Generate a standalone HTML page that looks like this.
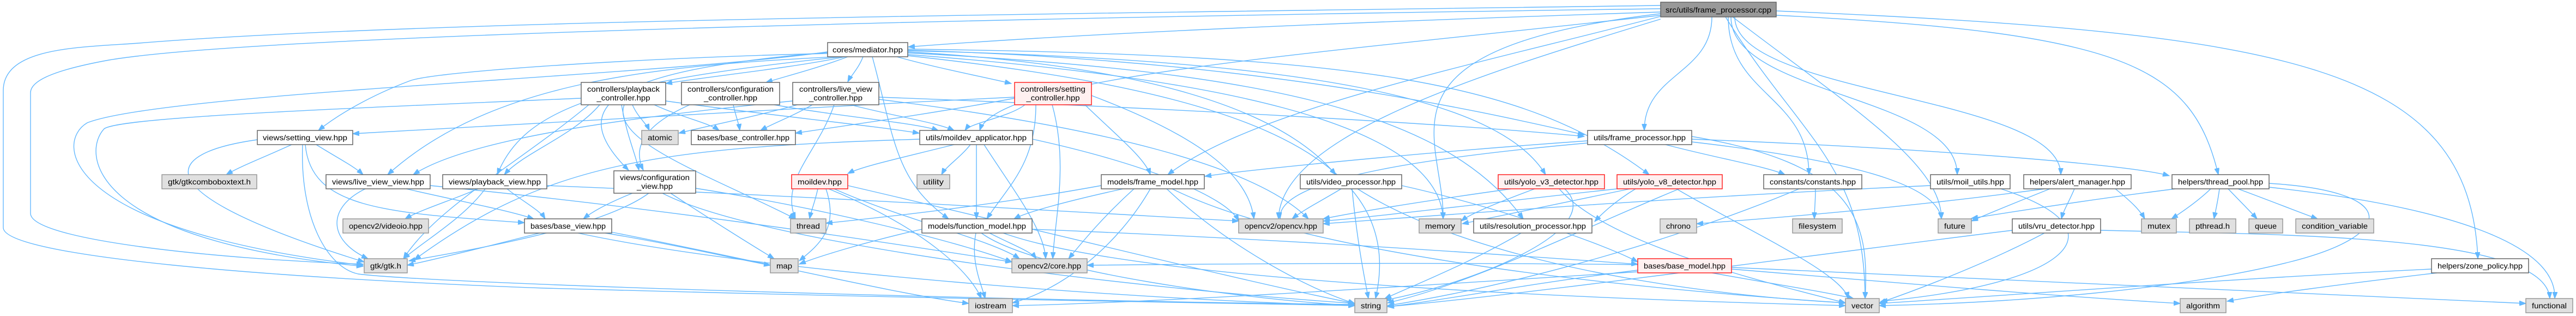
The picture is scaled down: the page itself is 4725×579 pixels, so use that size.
<!DOCTYPE html>
<html><head><meta charset="utf-8"><style>
html,body{margin:0;padding:0;background:#fff;}
svg{display:block;}
text{font-family:"Liberation Sans",sans-serif;font-size:14px;fill:#000;}
.e path{fill:none;stroke:#63b8ff;stroke-width:1.4;marker-end:url(#a);}
.n{fill:#fff;stroke:#666;stroke-width:1.5;}
.g{fill:#e0e0e0;stroke:#999;stroke-width:1.5;}
.r{fill:#fff0f0;stroke:#f22;stroke-width:1.5;}
.root{fill:#999;stroke:#666;stroke-width:1.5;}
</style></head><body>
<svg width="4725" height="579" viewBox="0 0 4725 579" xmlns="http://www.w3.org/2000/svg">
<defs><marker id="a" markerUnits="userSpaceOnUse" markerWidth="13" markerHeight="9" refX="12" refY="4.5" orient="auto"><path d="M0,0 L12,4.5 L0,9 z" fill="#63b8ff" stroke="#63b8ff"/></marker></defs>
<g class="e">
<!-- root -->
<path d="M3046 22 C2500 40,2000 60,1666 86"/>
<path d="M3140 31 C3140 135,3016 135,3016 239"/>
<path d="M3170 31 C3170 175,3318 175,3318 320"/>
<path d="M3175 31 C3175 175,3590 175,3590 320"/>
<path d="M3182 31 C3182 175,3780 175,3780 320"/>
<path d="M3258 28 C3900 60,4020 120,4069 320"/>
<path d="M3258 20 C4200 60,4530 120,4545 474"/>
<path d="M3165 31 C3300 250,3420 300,3421 547"/>
<path d="M3178 31 C3400 200,3561 300,3561 401"/>
<path d="M3046 30 C2700 120,2300 200,2142 320"/>
<path d="M3046 35 C2700 140,2350 250,2345 401"/>
<path d="M3046 28 C2400 100,1830 140,1797 239"/>
<path d="M3046 25 C2500 90,2650 250,2647 401"/>
<path d="M3046 16 C2000 30,500 60,200 110 C90 130,56 150,56 170 L56 391 C56 440,400 475,666 484"/>
<path d="M3046 10 C2000 25,800 35,255 79 C150 87,6 85,6 166 L6 417 C6 470,500 510,1000 528 C1800 550,2300 556,2485 560"/>
<!-- mediator -->
<path d="M1518 95 C1200 140,300 170,160 225 C100 260,110 420,666 486"/>
<path d="M1550 104 C1450 125,1300 140,1221 153"/>
<path d="M1555 104 C1500 125,1440 140,1405 151"/>
<path d="M1583 104 C1575 125,1560 140,1555 150"/>
<path d="M1645 104 C1720 125,1800 140,1855 153"/>
<path d="M1518 98 C1200 105,800 130,752 148 C680 175,620 210,584 239"/>
<path d="M1535 104 C1200 120,900 150,711 320"/>
<path d="M1545 104 C1100 150,960 200,912 320"/>
<path d="M1518 96 C1100 130,1040 200,1153 312"/>
<path d="M1600 104 C1640 250,1640 330,1740 401"/>
<path d="M1665 92 C2300 110,2700 200,2906 247"/>
<path d="M1665 95 C2100 120,2350 200,2450 320"/>
<path d="M1665 93 C2400 110,2750 180,2835 320"/>
<path d="M1665 97 C2300 130,2650 200,2794 401"/>
<path d="M1665 90 C2500 100,2800 150,3025 320"/>
<path d="M1665 100 C2200 140,2640 220,2647 401"/>
<path d="M1665 102 C2200 160,2590 260,2523 547"/>
<!-- controllers -->
<path d="M1066 180 C600 200,220 215,191 236 C150 280,160 440,666 488"/>
<path d="M1160 192 C1170 215,1185 225,1191 239"/>
<path d="M1200 192 C1250 215,1300 225,1319 239"/>
<path d="M1221 185 C1400 210,1600 230,1686 244"/>
<path d="M1140 192 C1150 250,1165 280,1172 312"/>
<path d="M1100 192 C1050 250,960 280,925 320"/>
<path d="M1145 192 C1120 260,1300 320,1459 401"/>
<path d="M1080 192 C950 300,800 380,740 474"/>
<path d="M1345 192 C1350 215,1355 225,1357 239"/>
<path d="M1265 192 C1180 230,1160 270,1180 312"/>
<path d="M1420 192 C1550 215,1680 225,1721 239"/>
<path d="M1470 190 C1380 215,1300 230,1245 244"/>
<path d="M1490 192 C1450 215,1420 225,1395 239"/>
<path d="M1454 185 C1100 220,850 260,758 320"/>
<path d="M1530 192 C1500 280,1430 330,1459 401"/>
<path d="M1560 192 C1650 215,1720 225,1750 239"/>
<path d="M1612 178 C2200 200,2700 230,2906 250"/>
<path d="M1612 182 C2000 230,2300 300,2400 401"/>
<path d="M1861 180 C1700 210,1550 230,1459 244"/>
<path d="M1861 178 C1400 200,900 230,647 245"/>
<path d="M1880 192 C1850 215,1780 225,1770 239"/>
<path d="M1930 192 C1960 300,1935 400,1931 474"/>
<path d="M1900 192 C1900 300,1850 340,1810 401"/>
<path d="M1990 192 C2050 250,2100 290,2110 320"/>
<path d="M2002 175 C2200 250,2290 320,2300 401"/>
<!-- moildev applicator -->
<path d="M1750 265 C1650 290,1580 305,1555 318"/>
<path d="M1780 265 C1760 290,1735 305,1727 320"/>
<path d="M1791 265 L1791 401"/>
<path d="M1805 265 C1860 350,1915 420,1918 474"/>
<path d="M1894 255 C2100 300,2250 360,2272 405"/>
<path d="M1687 255 C1200 270,1000 300,760 476"/>
<!-- moildev -->
<path d="M1500 346 C1495 370,1488 385,1485 401"/>
<path d="M1515 346 C1540 420,1500 450,1466 478"/>
<path d="M1530 346 C1650 400,1820 440,1870 474"/>
<path d="M1520 346 C1700 420,1780 500,1800 547"/>
<path d="M1555 340 C1900 420,2300 520,2485 556"/>
<!-- function model -->
<path d="M1815 427 C1860 450,1890 460,1901 474"/>
<path d="M1790 427 C1780 480,1800 520,1807 547"/>
<path d="M1893 420 C2400 440,2800 470,3004 484"/>
<path d="M1800 427 C1900 500,2300 550,2485 560"/>
<path d="M1691 420 C1600 440,1500 470,1466 484"/>
<path d="M1840 427 C2100 520,3000 550,3385 560"/>
<!-- frame model -->
<path d="M2020 340 C1800 380,1600 400,1515 409"/>
<path d="M2060 346 C1950 370,1880 390,1860 401"/>
<path d="M2140 346 C2250 450,2400 530,2485 556"/>
<path d="M2110 346 C2050 450,1950 530,1857 555"/>
<path d="M2080 346 C2020 400,1980 450,1960 474"/>
<path d="M2150 346 C2400 470,3000 530,3385 555"/>
<!-- frame processor hpp -->
<path d="M2912 258 C2600 280,2300 310,2210 323"/>
<path d="M2912 262 C2600 290,2340 330,2348 401"/>
<path d="M3055 265 C3150 290,3240 305,3274 320"/>
<path d="M3103 255 C3500 270,3900 300,3979 322"/>
<path d="M3103 250 C3400 300,3430 400,3421 547"/>
<path d="M3103 260 C3450 300,3555 350,3561 401"/>
<!-- video / yolo / res -->
<path d="M2460 346 C2420 370,2390 385,2370 401"/>
<path d="M2480 346 C2490 450,2505 520,2510 547"/>
<path d="M2490 346 C2700 480,3100 540,3385 555"/>
<path d="M2571 340 C2750 380,2950 450,3004 480"/>
<path d="M2772 346 C2600 370,2480 390,2427 401"/>
<path d="M2815 346 C2750 370,2700 390,2680 405"/>
<path d="M2870 346 C2950 420,2700 520,2540 550"/>
<path d="M2860 346 C2950 450,3250 520,3385 555"/>
<path d="M2966 346 C2700 375,2500 400,2427 405"/>
<path d="M2990 346 C2850 375,2730 400,2682 410"/>
<path d="M3000 346 C2960 370,2935 395,2925 406"/>
<path d="M3075 346 C3200 420,3380 500,3390 547"/>
<path d="M3080 346 C2900 420,2700 520,2545 555"/>
<path d="M2790 427 C2700 480,2600 520,2540 547"/>
<!-- constants, moil, alert, vru -->
<path d="M3330 346 C3330 370,3328 385,3328 401"/>
<path d="M3300 346 C3100 430,2800 520,2545 560"/>
<path d="M3670 346 C3900 420,3800 520,3450 552"/>
<path d="M3541 340 C3100 360,2700 390,2427 410"/>
<path d="M3880 346 C3910 370,3925 385,3934 401"/>
<path d="M3805 346 C3795 370,3785 385,3781 401"/>
<path d="M3760 346 C3700 370,3650 390,3616 405"/>
<path d="M3750 346 C3500 380,3250 400,3112 410"/>
<path d="M3750 427 C3650 480,3520 530,3447 555"/>
<path d="M3691 422 C3300 470,2800 540,2545 562"/>
<path d="M3853 422 C4200 430,4670 430,4677 547"/>
<!-- thread pool -->
<path d="M4055 346 C4030 370,4000 390,3983 401"/>
<path d="M4071 346 C4068 370,4063 390,4061 401"/>
<path d="M4087 346 C4110 370,4130 390,4140 401"/>
<path d="M4105 346 C4170 370,4220 390,4251 401"/>
<path d="M4162 343 C4500 380,4690 450,4686 547"/>
<path d="M3990 346 C3800 370,3650 395,3616 400"/>
<path d="M4162 336 C4400 350,4400 430,4200 480 C4000 530,3700 555,3447 560"/>
<!-- zone, base model -->
<path d="M4470 500 C4300 520,4150 540,4085 552"/>
<path d="M4460 493 C4100 510,3700 540,3447 556"/>
<path d="M3176 493 C3500 520,3800 545,3999 556"/>
<path d="M3140 500 C3250 520,3350 535,3400 547"/>
<path d="M3176 490 C3800 520,4300 545,4633 556"/>
<path d="M3004 495 C2800 520,2650 550,2545 562"/>
<path d="M3004 498 C2500 530,2100 555,1857 560"/>
<path d="M3004 485 C2600 480,2200 484,1994 486"/>
<!-- views -->
<path d="M990 427 C900 450,800 475,747 486"/>
<path d="M1110 427 C1250 450,1350 475,1413 486"/>
<path d="M1060 427 C1400 500,2100 550,2485 560"/>
<path d="M1120 425 C1400 480,1650 540,1777 556"/>
<path d="M1160 354 C1120 370,1090 385,1070 401"/>
<path d="M1190 354 C1100 420,850 460,750 478"/>
<path d="M1230 354 C1300 400,1380 450,1420 474"/>
<path d="M1215 354 C1400 450,2100 530,2485 556"/>
<path d="M1276 345 C1500 380,1750 440,1856 480"/>
<path d="M535 265 C480 290,440 305,415 320"/>
<path d="M580 265 C620 290,650 305,666 320"/>
<path d="M472 256 C300 280,250 350,668 480"/>
<path d="M560 265 C570 380,700 390,962 408"/>
<path d="M555 265 C550 400,600 490,657 502 C800 520,1800 550,2485 558"/>
<path d="M670 346 C600 380,600 440,675 474"/>
<path d="M745 346 C850 370,930 385,979 401"/>
<path d="M789 340 C1200 380,1600 440,1856 480"/>
<path d="M877 346 C820 370,770 385,743 401"/>
<path d="M890 346 C850 400,780 440,740 474"/>
<path d="M930 346 C960 370,990 385,1000 401"/>
<path d="M1003 340 C1500 360,2000 390,2272 405"/>
</g>
<g>
<rect class="root" x="3046" y="4" width="212" height="27"/><text x="3152" y="23" text-anchor="middle" textLength="194" lengthAdjust="spacingAndGlyphs">src/utils/frame_processor.cpp</text>
<rect class="n" x="1518" y="78" width="147" height="26"/><text x="1591.5" y="96" text-anchor="middle" textLength="129" lengthAdjust="spacingAndGlyphs">cores/mediator.hpp</text>

<rect class="n" x="1066" y="151" width="155" height="41"/><text x="1143.5" y="168" text-anchor="middle" textLength="133" lengthAdjust="spacingAndGlyphs">controllers/playback</text><text x="1143.5" y="184" text-anchor="middle" textLength="98" lengthAdjust="spacingAndGlyphs">_controller.hpp</text>
<rect class="n" x="1250" y="151" width="180" height="41"/><text x="1340" y="168" text-anchor="middle" textLength="158" lengthAdjust="spacingAndGlyphs">controllers/configuration</text><text x="1340" y="184" text-anchor="middle" textLength="98" lengthAdjust="spacingAndGlyphs">_controller.hpp</text>
<rect class="n" x="1454" y="151" width="158" height="41"/><text x="1533" y="168" text-anchor="middle" textLength="134" lengthAdjust="spacingAndGlyphs">controllers/live_view</text><text x="1533" y="184" text-anchor="middle" textLength="98" lengthAdjust="spacingAndGlyphs">_controller.hpp</text>
<rect class="r" x="1861" y="151" width="141" height="41"/><text x="1931.5" y="168" text-anchor="middle" textLength="119" lengthAdjust="spacingAndGlyphs">controllers/setting</text><text x="1931.5" y="184" text-anchor="middle" textLength="98" lengthAdjust="spacingAndGlyphs">_controller.hpp</text>

<rect class="n" x="472" y="239" width="175" height="26"/><text x="559.5" y="257" text-anchor="middle" textLength="155" lengthAdjust="spacingAndGlyphs">views/setting_view.hpp</text>
<rect class="g" x="1177" y="239" width="67" height="26"/><text x="1210.5" y="257" text-anchor="middle" textLength="45" lengthAdjust="spacingAndGlyphs">atomic</text>
<rect class="n" x="1268" y="239" width="191" height="26"/><text x="1363.5" y="257" text-anchor="middle" textLength="169" lengthAdjust="spacingAndGlyphs">bases/base_controller.hpp</text>
<rect class="n" x="1687" y="239" width="207" height="26"/><text x="1790.5" y="257" text-anchor="middle" textLength="185" lengthAdjust="spacingAndGlyphs">utils/moildev_applicator.hpp</text>
<rect class="n" x="2912" y="239" width="191" height="26"/><text x="3007.5" y="257" text-anchor="middle" textLength="169" lengthAdjust="spacingAndGlyphs">utils/frame_processor.hpp</text>

<rect class="g" x="297" y="320" width="174" height="26"/><text x="384" y="338" text-anchor="middle" textLength="152" lengthAdjust="spacingAndGlyphs">gtk/gtkcomboboxtext.h</text>
<rect class="n" x="598" y="320" width="191" height="26"/><text x="693.5" y="338" text-anchor="middle" textLength="169" lengthAdjust="spacingAndGlyphs">views/live_view_view.hpp</text>
<rect class="n" x="812" y="320" width="191" height="26"/><text x="907.5" y="338" text-anchor="middle" textLength="169" lengthAdjust="spacingAndGlyphs">views/playback_view.hpp</text>
<rect class="n" x="1126" y="313" width="150" height="41"/><text x="1201" y="330" text-anchor="middle" textLength="128" lengthAdjust="spacingAndGlyphs">views/configuration</text><text x="1201" y="346" text-anchor="middle" textLength="66" lengthAdjust="spacingAndGlyphs">_view.hpp</text>
<rect class="r" x="1452" y="320" width="103" height="26"/><text x="1503.5" y="338" text-anchor="middle" textLength="81" lengthAdjust="spacingAndGlyphs">moildev.hpp</text>
<rect class="g" x="1682" y="320" width="60" height="26"/><text x="1712" y="338" text-anchor="middle" textLength="38" lengthAdjust="spacingAndGlyphs">utility</text>
<rect class="n" x="2020" y="320" width="189" height="26"/><text x="2114.5" y="338" text-anchor="middle" textLength="167" lengthAdjust="spacingAndGlyphs">models/frame_model.hpp</text>
<rect class="n" x="2385" y="320" width="186" height="26"/><text x="2478" y="338" text-anchor="middle" textLength="164" lengthAdjust="spacingAndGlyphs">utils/video_processor.hpp</text>
<rect class="r" x="2748" y="320" width="195" height="26"/><text x="2845.5" y="338" text-anchor="middle" textLength="173" lengthAdjust="spacingAndGlyphs">utils/yolo_v3_detector.hpp</text>
<rect class="r" x="2966" y="320" width="193" height="26"/><text x="3062.5" y="338" text-anchor="middle" textLength="171" lengthAdjust="spacingAndGlyphs">utils/yolo_v8_detector.hpp</text>
<rect class="n" x="3235" y="320" width="180" height="26"/><text x="3325" y="338" text-anchor="middle" textLength="158" lengthAdjust="spacingAndGlyphs">constants/constants.hpp</text>
<rect class="n" x="3541" y="320" width="146" height="26"/><text x="3614" y="338" text-anchor="middle" textLength="124" lengthAdjust="spacingAndGlyphs">utils/moil_utils.hpp</text>
<rect class="n" x="3712" y="320" width="197" height="26"/><text x="3810.5" y="338" text-anchor="middle" textLength="175" lengthAdjust="spacingAndGlyphs">helpers/alert_manager.hpp</text>
<rect class="n" x="3984" y="320" width="178" height="26"/><text x="4073" y="338" text-anchor="middle" textLength="156" lengthAdjust="spacingAndGlyphs">helpers/thread_pool.hpp</text>

<rect class="g" x="629" y="401" width="157" height="26"/><text x="707.5" y="419" text-anchor="middle" textLength="135" lengthAdjust="spacingAndGlyphs">opencv2/videoio.hpp</text>
<rect class="n" x="962" y="401" width="160" height="26"/><text x="1042" y="419" text-anchor="middle" textLength="138" lengthAdjust="spacingAndGlyphs">bases/base_view.hpp</text>
<rect class="g" x="1450" y="401" width="65" height="26"/><text x="1482.5" y="419" text-anchor="middle" textLength="43" lengthAdjust="spacingAndGlyphs">thread</text>
<rect class="n" x="1691" y="401" width="202" height="26"/><text x="1792" y="419" text-anchor="middle" textLength="180" lengthAdjust="spacingAndGlyphs">models/function_model.hpp</text>
<rect class="g" x="2272" y="401" width="155" height="26"/><text x="2349.5" y="419" text-anchor="middle" textLength="133" lengthAdjust="spacingAndGlyphs">opencv2/opencv.hpp</text>
<rect class="g" x="2603" y="401" width="77" height="26"/><text x="2641.5" y="419" text-anchor="middle" textLength="55" lengthAdjust="spacingAndGlyphs">memory</text>
<rect class="n" x="2703" y="401" width="217" height="26"/><text x="2811.5" y="419" text-anchor="middle" textLength="195" lengthAdjust="spacingAndGlyphs">utils/resolution_processor.hpp</text>
<rect class="g" x="3045" y="401" width="67" height="26"/><text x="3078.5" y="419" text-anchor="middle" textLength="45" lengthAdjust="spacingAndGlyphs">chrono</text>
<rect class="g" x="3288" y="401" width="91" height="26"/><text x="3333.5" y="419" text-anchor="middle" textLength="69" lengthAdjust="spacingAndGlyphs">filesystem</text>
<rect class="g" x="3555" y="401" width="61" height="26"/><text x="3585.5" y="419" text-anchor="middle" textLength="39" lengthAdjust="spacingAndGlyphs">future</text>
<rect class="n" x="3691" y="401" width="162" height="26"/><text x="3772" y="419" text-anchor="middle" textLength="140" lengthAdjust="spacingAndGlyphs">utils/vru_detector.hpp</text>
<rect class="g" x="3928" y="401" width="64" height="26"/><text x="3960" y="419" text-anchor="middle" textLength="42" lengthAdjust="spacingAndGlyphs">mutex</text>
<rect class="g" x="4016" y="401" width="85" height="26"/><text x="4058.5" y="419" text-anchor="middle" textLength="63" lengthAdjust="spacingAndGlyphs">pthread.h</text>
<rect class="g" x="4125" y="401" width="62" height="26"/><text x="4156" y="419" text-anchor="middle" textLength="40" lengthAdjust="spacingAndGlyphs">queue</text>
<rect class="g" x="4211" y="401" width="143" height="26"/><text x="4282.5" y="419" text-anchor="middle" textLength="121" lengthAdjust="spacingAndGlyphs">condition_variable</text>

<rect class="g" x="668" y="474" width="79" height="26"/><text x="707.5" y="492" text-anchor="middle" textLength="57" lengthAdjust="spacingAndGlyphs">gtk/gtk.h</text>
<rect class="g" x="1413" y="474" width="51" height="26"/><text x="1438.5" y="492" text-anchor="middle" textLength="29" lengthAdjust="spacingAndGlyphs">map</text>
<rect class="g" x="1856" y="474" width="138" height="26"/><text x="1925" y="492" text-anchor="middle" textLength="116" lengthAdjust="spacingAndGlyphs">opencv2/core.hpp</text>
<rect class="r" x="3004" y="474" width="172" height="26"/><text x="3090" y="492" text-anchor="middle" textLength="150" lengthAdjust="spacingAndGlyphs">bases/base_model.hpp</text>
<rect class="n" x="4460" y="474" width="178" height="26"/><text x="4549" y="492" text-anchor="middle" textLength="156" lengthAdjust="spacingAndGlyphs">helpers/zone_policy.hpp</text>

<rect class="g" x="1777" y="547" width="80" height="26"/><text x="1817" y="565" text-anchor="middle" textLength="58" lengthAdjust="spacingAndGlyphs">iostream</text>
<rect class="g" x="2485" y="547" width="59" height="26"/><text x="2514.5" y="565" text-anchor="middle" textLength="37" lengthAdjust="spacingAndGlyphs">string</text>
<rect class="g" x="3385" y="547" width="62" height="26"/><text x="3416" y="565" text-anchor="middle" textLength="40" lengthAdjust="spacingAndGlyphs">vector</text>
<rect class="g" x="3999" y="547" width="84" height="26"/><text x="4041" y="565" text-anchor="middle" textLength="62" lengthAdjust="spacingAndGlyphs">algorithm</text>
<rect class="g" x="4633" y="547" width="86" height="26"/><text x="4676" y="565" text-anchor="middle" textLength="64" lengthAdjust="spacingAndGlyphs">functional</text>
</g>
</svg>
</body></html>
